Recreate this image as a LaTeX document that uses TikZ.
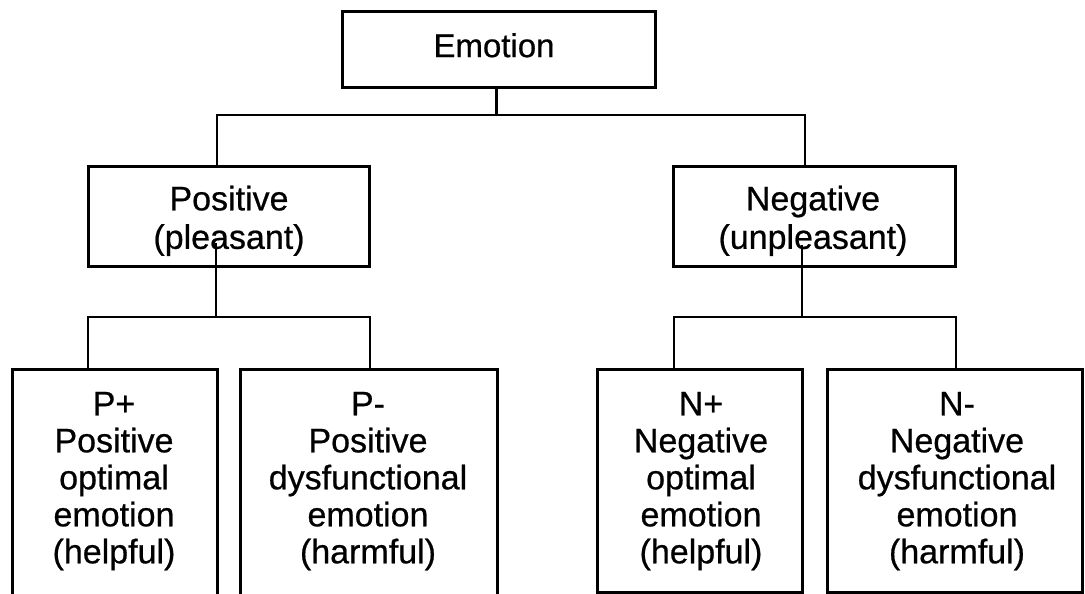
\documentclass[tikz,border=0pt]{standalone}
\usepackage{fontspec}
\setmainfont{Liberation Sans}[FakeBold=0.6]
\begin{document}
\begin{tikzpicture}[x=1pt,y=-1pt,
  box/.style={draw=black,line width=3pt,rectangle,inner sep=0pt,outer sep=0pt},
  conn/.style={draw=black,line width=2.3pt},
  lbl/.style={anchor=north,inner sep=0pt,align=center,font=\fontsize{34}{37}\selectfont},
  lblm/.style={anchor=north,inner sep=0pt,align=center,font=\fontsize{34}{38.5}\selectfont}]
\useasboundingbox (0,0) rectangle (1085,594);
% boxes
\node[box,minimum width=313pt,minimum height=76pt] (emo) at (498.5,50) {};
\node[box,minimum width=281pt,minimum height=100pt] (pos) at (228.5,216) {};
\node[box,minimum width=282pt,minimum height=100pt] (neg) at (814,216) {};
\node[box,minimum width=205pt,minimum height=231pt] (pp) at (114.5,484.5) {};
\node[box,minimum width=257pt,minimum height=231pt] (pm) at (368.5,484.5) {};
\node[box,minimum width=205pt,minimum height=223.5pt] (np) at (699.5,480.75) {};
\node[box,minimum width=255pt,minimum height=223.5pt] (nm) at (954.5,480.75) {};
% texts
\node[lbl,font=\fontsize{33}{37}\selectfont] (temo) at (494,33) {Emotion};
\node[lblm] (tpos) at (229,185.5) {Positive\\(pleasant)};
\node[lblm] (tneg) at (813,185.5) {Negative\\(unpleasant)};
\node[lbl] (tpp) at (114,391.7) {P+\\Positive\\optimal\\emotion\\(helpful)};
\node[lbl] (tpm) at (368,391.7) {P-\\Positive\\dysfunctional\\emotion\\(harmful)};
\node[lbl] (tnp) at (701,391.7) {N+\\Negative\\optimal\\emotion\\(helpful)};
\node[lbl] (tnm) at (957,391.7) {N-\\Negative\\dysfunctional\\emotion\\(harmful)};
% junction coordinates
\coordinate (kp) at (217,115);
\coordinate (kn) at (805,115);
\coordinate (ke) at (496.5,115);
\coordinate (sp) at (216,243);
\coordinate (sn) at (802,245);
\coordinate (lp) at (216,317);
\coordinate (ln) at (802,317);
\coordinate (lpa) at (88,317);
\coordinate (lpb) at (370,317);
\coordinate (lna) at (674,317);
\coordinate (lnb) at (956,317);
% connectors
\draw[conn] (emo.south -| ke) -- (ke);
\draw[conn] (pos.north -| kp) -- (kp) -- (kn) -- (neg.north -| kn);
\draw[conn] (sp) -- (lp);
\draw[conn] (sn) -- (ln);
\draw[conn] (pp.north -| lpa) -- (lpa) -- (lpb) -- (pm.north -| lpb);
\draw[conn] (np.north -| lna) -- (lna) -- (lnb) -- (nm.north -| lnb);
\end{tikzpicture}
\end{document}
